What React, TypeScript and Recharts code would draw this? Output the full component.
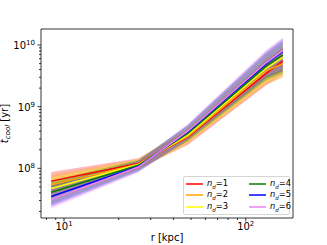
import React from "react";
import { ComposedChart, Area, Line, XAxis, YAxis, Legend, ReferenceArea } from "recharts";

// radii of the sampled bins [kpc]
const radius = [8.5, 25.6, 48, 130, 160];

const ndLabels = ["1", "2", "3", "4", "5", "6"];
const colors = ["red", "orange", "yellow", "green", "blue", "violet"];

// median cooling time per n_d, with the spread band [yr]
const nd1 = [6.2e7, 1.2e8, 3.2e8, 3.5e9, 5.5e9];
const nd1Low = [3.8e7, 9.8e7, 2.4e8, 2.24e9, 3.2e9];
const nd1High = [8.7e7, 1.45e8, 4.2e8, 5.6e9, 9.1e9];

const nd2 = [5.4e7, 1.17e8, 3.3e8, 3.8e9, 5.0e9];
const nd2Low = [3.4e7, 9.6e7, 2.5e8, 2.3e9, 2.9e9];
const nd2High = [7.9e7, 1.42e8, 4.4e8, 6.0e9, 8.9e9];

const nd3 = [4.7e7, 1.15e8, 3.5e8, 4.2e9, 6.3e9];
const nd3Low = [2.95e7, 9.4e7, 2.6e8, 2.5e9, 3.3e9];
const nd3High = [7.1e7, 1.39e8, 4.7e8, 6.8e9, 1.05e10];

const nd4 = [4.1e7, 1.12e8, 3.7e8, 4.6e9, 6.9e9];
const nd4Low = [2.6e7, 9.1e7, 2.75e8, 2.7e9, 3.5e9];
const nd4High = [6.3e7, 1.36e8, 4.9e8, 7.4e9, 1.15e10];

const nd5 = [3.5e7, 1.07e8, 3.9e8, 5.0e9, 7.8e9];
const nd5Low = [2.4e7, 8.8e7, 2.9e8, 2.95e9, 3.8e9];
const nd5High = [5.5e7, 1.32e8, 5.1e8, 7.9e9, 1.26e10];

const nd6 = [3.1e7, 1.05e8, 4.0e8, 5.2e9, 8.1e9];
const nd6Low = [2.2e7, 8.5e7, 2.95e8, 3.2e9, 4.0e9];
const nd6High = [4.8e7, 1.29e8, 5.25e8, 8.5e9, 1.32e10];

const medians = [nd1, nd2, nd3, nd4, nd5, nd6];
const lows = [nd1Low, nd2Low, nd3Low, nd4Low, nd5Low, nd6Low];
const highs = [nd1High, nd2High, nd3High, nd4High, nd5High, nd6High];

const xDomain = [7.47, 182];
const yDomain = [1.563e7, 1.82e10];
const xTicks = [8, 9, 10, 20, 30, 40, 50, 60, 70, 80, 90, 100];
const xMajor = [10, 100];
const yTicks = [
  2e7, 3e7, 4e7, 5e7, 6e7, 7e7, 8e7, 9e7, 1e8,
  2e8, 3e8, 4e8, 5e8, 6e8, 7e8, 8e8, 9e8, 1e9,
  2e9, 3e9, 4e9, 5e9, 6e9, 7e9, 8e9, 9e9, 1e10,
];
const yMajor = [1e8, 1e9, 1e10];

const data = radius.map((r, i) => {
  const row: any = { r };
  ndLabels.forEach((_, k) => {
    row["n" + k] = medians[k][i];
    row["b" + k] = [lows[k][i], highs[k][i]];
  });
  return row;
});

const font = "DejaVu Sans";

const XTick = (props: any) => {
  const { x, y, payload } = props;
  const major = xMajor.includes(payload.value);
  return (
    <g>
      <line x1={x} x2={x} y1={y} y2={y + (major ? 3.5 : 2)} stroke="#000" strokeWidth={0.8} />
      {major && (
        <text x={x} y={y + 12} textAnchor="middle" fontSize={10} fontFamily={font} fill="#000">
          10
          <tspan dy={-4} fontSize={7}>{Math.round(Math.log10(payload.value))}</tspan>
        </text>
      )}
    </g>
  );
};

const YTick = (props: any) => {
  const { x, y, payload } = props;
  const major = yMajor.includes(payload.value);
  return (
    <g>
      <line x1={x} x2={x - (major ? 3.5 : 2)} y1={y} y2={y} stroke="#000" strokeWidth={0.8} />
      {major && (
        <text x={x - 6} y={y + 4} textAnchor="end" fontSize={10} fontFamily={font} fill="#000">
          10
          <tspan dy={-4} fontSize={7}>{Math.round(Math.log10(payload.value))}</tspan>
        </text>
      )}
    </g>
  );
};

const YLabel = (props: any) => {
  const { viewBox } = props;
  const cx = viewBox.x + 8;
  const cy = viewBox.y + viewBox.height / 2;
  return (
    <text
      x={cx}
      y={cy}
      transform={`rotate(-90 ${cx} ${cy})`}
      textAnchor="middle"
      fontSize={10}
      fontFamily={font}
      fill="#000"
    >
      <tspan fontStyle="italic">t</tspan>
      <tspan fontStyle="italic" fontSize={7} dy={2}>cool</tspan>
      <tspan dy={-2}> [yr]</tspan>
    </text>
  );
};

const XLabel = (props: any) => {
  const { viewBox } = props;
  return (
    <text
      x={viewBox.x + viewBox.width / 2}
      y={viewBox.y + 23}
      textAnchor="middle"
      fontSize={10}
      fontFamily={font}
      fill="#000"
    >
      r [kpc]
    </text>
  );
};

const LegendBox = () => (
  <div
    style={{
      border: "1px solid #d6d6d6",
      borderRadius: 2,
      background: "rgba(255,255,255,0.8)",
      padding: "1px 2px",
      display: "grid",
      gridTemplateColumns: "63px auto",
      gridAutoFlow: "column",
      gridTemplateRows: "repeat(3, 11.5px)",
      fontFamily: font,
      fontSize: 8.3,
      color: "#000",
      boxSizing: "border-box",
    }}
  >
    {ndLabels.map((n, k) => (
      <div key={n} style={{ display: "flex", alignItems: "center" }}>
        <svg width={21} height={4}>
          <line x1={0} x2={17} y1={2} y2={2} stroke={colors[k]} strokeWidth={1.5} />
        </svg>
        <span>
          <i>n</i>
          <sub style={{ fontSize: 5.5, fontStyle: "italic" }}>d</sub>={n}
        </span>
      </div>
    ))}
  </div>
);

export default function App() {
  return (
    <div style={{ position: "absolute", left: 0, top: 0 }}>
      <ComposedChart width={327} height={245} data={data} margin={{ top: 29, right: 34, bottom: 0, left: 0 }}>
        <XAxis
          dataKey="r"
          type="number"
          scale="log"
          domain={xDomain}
          allowDataOverflow
          ticks={xTicks}
          interval={0}
          tick={<XTick />}
          tickLine={false}
          axisLine={false}
          tickSize={0}
          tickMargin={0}
          height={27}
          label={<XLabel />}
        />
        <YAxis
          type="number"
          scale="log"
          domain={yDomain}
          allowDataOverflow
          ticks={yTicks}
          interval={0}
          tick={<YTick />}
          tickLine={false}
          axisLine={false}
          tickSize={0}
          tickMargin={0}
          width={41}
          label={<YLabel />}
        />
        {ndLabels.map((n, k) => (
          <Area
            key={"b" + n}
            type="linear"
            dataKey={"b" + k}
            stroke="none"
            fill={colors[k]}
            fillOpacity={0.28}
            isAnimationActive={false}
            legendType="none"
          />
        ))}
        {ndLabels.map((n, k) => (
          <Line
            key={"n" + n}
            type="linear"
            dataKey={"n" + k}
            stroke={colors[k]}
            strokeWidth={1.5}
            dot={false}
            isAnimationActive={false}
          />
        ))}
        <ReferenceArea
          x1={xDomain[0]}
          x2={xDomain[1]}
          y1={yDomain[0]}
          y2={yDomain[1]}
          fill="none"
          stroke="#000"
          strokeWidth={0.8}
          ifOverflow="visible"
        />
        <Legend
          layout="vertical"
          align="center"
          verticalAlign="middle"
          content={<LegendBox />}
          wrapperStyle={{ left: 183, top: 176, width: 107 }}
        />
      </ComposedChart>
    </div>
  );
}
